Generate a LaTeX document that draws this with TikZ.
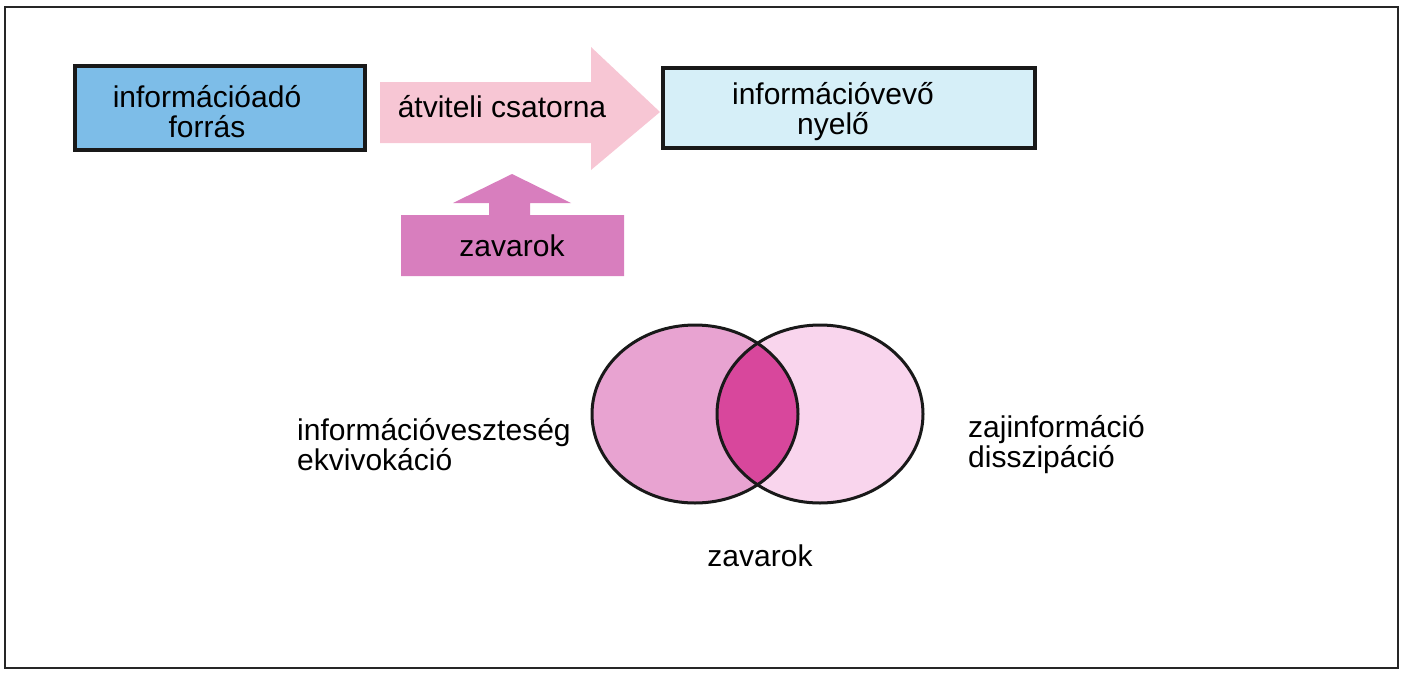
\documentclass[tikz,border=0pt]{standalone}
\usepackage{fontspec}
\setmainfont{Liberation Sans}
\begin{document}
\begin{tikzpicture}[x=1pt,y=-1pt,
  lbl/.style={font=\fontsize{30}{30}\selectfont, inner sep=0pt},
  blockbox/.style={draw=black!90, line width=3.4pt},
  venn/.style={draw=black!90, line width=3pt}]
\definecolor{srcblue}{HTML}{7DBDE8}
\definecolor{sinkcyan}{HTML}{D6EFF8}
\definecolor{chanpink}{HTML}{F7C6D4}
\definecolor{noisepink}{HTML}{D87EBE}
\definecolor{lossmag}{HTML}{E8A3D1}
\definecolor{gainpink}{HTML}{F9D5ED}
\definecolor{lensmag}{HTML}{D8479C}
\useasboundingbox (0,0) rectangle (1413,672);
% outer frame
\draw[line width=2.6pt, black!85] (5,7) rectangle (1398,668);

% source and sink boxes
\node[blockbox, fill=srcblue, minimum width=290pt, minimum height=84pt] (src) at (220,108) {};
\node[lbl, align=center] (srct) at (207,112) {információadó\\forrás};
\node[blockbox, fill=sinkcyan, minimum width=372pt, minimum height=80pt] (snk) at (849,108) {};
\node[lbl, align=center] (snkt) at (833,112) {információvevő\\nyelő};

% transmission channel arrow
\fill[chanpink] (380,82) -- (591,82) -- (591,47) -- (660,112) -- (591,170)
  -- (591,143) -- (380,143) -- cycle;
\node[lbl] (chan) at (502,107) {átviteli csatorna};

% disturbance block with upward arrow
\fill[noisepink] (401,215) -- (489,215) -- (489,203) -- (453,203) -- (512,174)
  -- (571,203) -- (530,203) -- (530,215) -- (624,215) -- (624,276) -- (401,276) -- cycle;
\node[lbl] (noise) at (512,246) {zavarok};

% Venn diagram of the two entropies
\fill[lossmag] (695,414) ellipse [x radius=103, y radius=89];
\fill[gainpink] (820,414) ellipse [x radius=103, y radius=89];
\begin{scope}
  \clip (695,414) ellipse [x radius=103, y radius=89];
  \fill[lensmag] (820,414) ellipse [x radius=103, y radius=89];
\end{scope}
\draw[venn] (695,414) ellipse [x radius=103, y radius=89];
\draw[venn] (820,414) ellipse [x radius=103, y radius=89];

\node[lbl, align=left, anchor=west] (loss) at (297,445) {információveszteség\\ekvivokáció};
\node[lbl, align=left, anchor=west] (gain) at (968,445) {zajinformáció\\disszipáció};
\node[lbl] (noise2) at (760,556) {zavarok};
\end{tikzpicture}
\end{document}
